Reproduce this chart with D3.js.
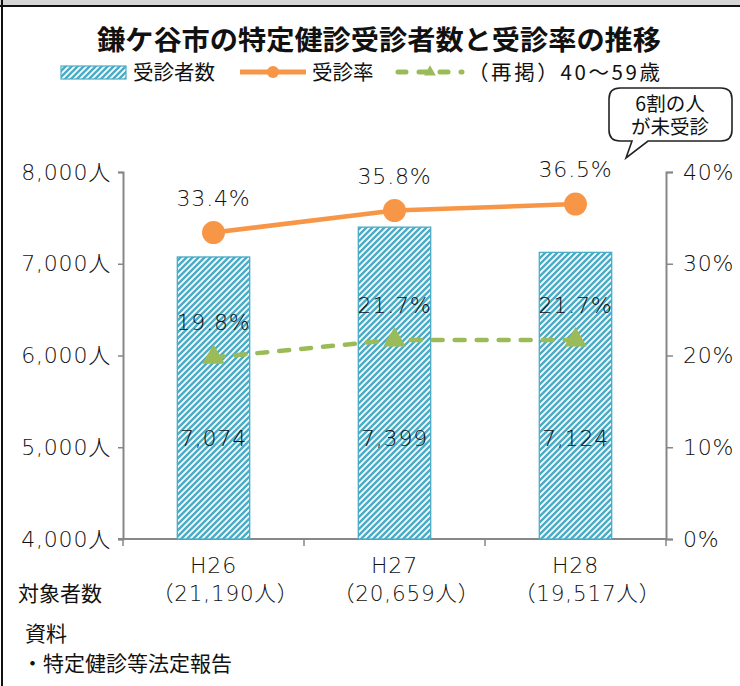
<!DOCTYPE html>
<html><head><meta charset="utf-8">
<script src="https://cdn.jsdelivr.net/npm/d3@7"></script>
<style>
html,body{margin:0;padding:0;background:#fff;}
svg{display:block;font-family:"Noto Sans CJK JP","Noto Sans",sans-serif;}
.num{font-family:"DejaVu Sans","Noto Sans CJK JP",sans-serif;font-weight:200;letter-spacing:0.8px;}
</style></head>
<body><svg id="c" width="740" height="686"></svg>
<script>
const categories = ["H26", "H27", "H28"];
const targetCounts = ["（21,190人）", "（20,659人）", "（19,517人）"];
const examinees = [7074, 7399, 7124];
const examRate = [33.4, 35.8, 36.5];
const rate4059 = [19.8, 21.7, 21.7];
const leftTicks = [4000, 5000, 6000, 7000, 8000];
const rightTicks = [0, 10, 20, 30, 40];
const title = "鎌ケ谷市の特定健診受診者数と受診率の推移";
const legendLabels = ["受診者数", "受診率", "（再掲）40〜59歳"];
const calloutLines = ["6割の人", "が未受診"];
const sourceLines = ["資料", "・特定健診等法定報告"];

const BLUE = "#4bacc6", ORANGE = "#f79646", GREEN = "#9bbb59", AX = "#878787";
const svg = d3.select("#c");

// frame
svg.append("rect").attr("x",0).attr("y",0).attr("width",740).attr("height",5).attr("fill","#d6d6d6");
svg.append("rect").attr("x",0).attr("y",5).attr("width",740).attr("height",2).attr("fill","#111");
svg.append("rect").attr("x",1).attr("y",0).attr("width",2).attr("height",686).attr("fill","#111");

// pattern
const defs = svg.append("defs");
const pat = defs.append("pattern").attr("id","hatch").attr("patternUnits","userSpaceOnUse")
  .attr("width",6).attr("height",6);
pat.append("rect").attr("width",6).attr("height",6).attr("fill","#fff");
pat.append("path").attr("d","M-1,7 L7,-1 M-4,4 L4,-4 M2,10 L10,2")
  .attr("stroke",BLUE).attr("stroke-width",2.5);

const m = {l:123, r:666, t:172, b:539};
const x = d3.scaleBand().domain(categories).range([m.l, m.r]).padding(0.6).paddingOuter(0.3);
const xc = d => x(d) + x.bandwidth()/2;
const yL = d3.scaleLinear().domain([4000, 8000]).range([m.b, m.t]);
const yR = d3.scaleLinear().domain([0, 40]).range([m.b, m.t]);

// title
svg.append("text").attr("x",379).attr("y",50).attr("text-anchor","middle")
  .attr("font-size",27).attr("font-weight","bold").attr("fill","#111")
  .attr("textLength",564).attr("lengthAdjust","spacingAndGlyphs").text(title);

// legend
const lg = svg.append("g").attr("font-size",20.5).attr("fill","#111");
lg.append("rect").attr("x",61).attr("y",66).attr("width",65).attr("height",13)
  .attr("fill","url(#hatch)").attr("stroke",BLUE).attr("stroke-width",1.2);
lg.append("text").attr("x",133).attr("y",80).text(legendLabels[0]);
lg.append("line").attr("x1",240).attr("x2",306).attr("y1",72).attr("y2",72)
  .attr("stroke",ORANGE).attr("stroke-width",5);
lg.append("circle").attr("cx",273).attr("cy",72).attr("r",6).attr("fill",ORANGE);
lg.append("text").attr("x",312).attr("y",80).text(legendLabels[1]);
lg.append("line").attr("x1",398).attr("x2",462).attr("y1",72).attr("y2",72)
  .attr("stroke",GREEN).attr("stroke-width",5).attr("stroke-linecap","round")
  .attr("stroke-dasharray","8,13");
lg.append("path").attr("d",d3.symbol(d3.symbolTriangle,60)()).attr("transform","translate(430,72)").attr("fill",GREEN);
lg.append("text").attr("x",468).attr("y",80).attr("textLength",192).attr("lengthAdjust","spacing").text(legendLabels[2]);

// callout
const co = svg.append("g");
co.append("path").attr("d","M620,88 H721 Q732,88 732,99 V130 Q732,141 721,141 H648 L626,158 L632,141 H620 Q609,141 609,130 V99 Q609,88 620,88 Z")
  .attr("fill","#fff").attr("stroke","#222").attr("stroke-width",1.6);
co.append("text").attr("text-anchor","middle").attr("font-size",19.5).attr("fill","#111")
  .selectAll("tspan").data(calloutLines).join("tspan")
  .attr("x",670).attr("y",(d,i)=>111+i*23).text(d=>d);

// axes
const axL = svg.append("g").attr("transform",`translate(${m.l},0)`)
  .call(d3.axisLeft(yL).tickValues(leftTicks).tickSize(5).tickPadding(7)
  .tickFormat(d=>d3.format(",")(d)+"人"));
const axR = svg.append("g").attr("transform",`translate(${m.r},0)`)
  .call(d3.axisRight(yR).tickValues(rightTicks).tickSize(7).tickPadding(10)
  .tickFormat(d=>d+"%"));
[axL,axR].forEach(a=>{
  a.select(".domain").attr("stroke",AX).attr("stroke-width",2);
  a.selectAll(".tick line").attr("stroke",AX).attr("stroke-width",1.5);
  a.selectAll(".tick text").attr("font-size",22).attr("fill","#111").attr("font-family",null).attr("class","num");
});
// baseline
svg.append("line").attr("x1",m.l-5).attr("x2",m.r).attr("y1",m.b).attr("y2",m.b)
  .attr("stroke",AX).attr("stroke-width",2);
const step = (m.r - m.l)/categories.length;
d3.range(categories.length+1).forEach(i=>{
  svg.append("line").attr("x1",m.l+i*step).attr("x2",m.l+i*step).attr("y1",m.b).attr("y2",m.b+7)
    .attr("stroke",AX).attr("stroke-width",1.5);
});

// bars
svg.selectAll(".bar").data(examinees).join("rect").attr("class","bar")
  .attr("x",(d,i)=>x(categories[i])).attr("width",x.bandwidth())
  .attr("y",d=>yL(d)).attr("height",d=>m.b-yL(d))
  .attr("fill","url(#hatch)").attr("stroke",BLUE).attr("stroke-width",1.3);

// x labels
svg.selectAll(".xl").data(categories).join("text").attr("class","xl num")
  .attr("x",d=>xc(d)).attr("y",573).attr("text-anchor","middle").attr("font-size",22).attr("fill","#111").text(d=>d);
svg.selectAll(".xt").data(targetCounts).join("text").attr("class","xt num")
  .attr("x",(d,i)=>xc(categories[i])+12).attr("y",601).attr("text-anchor","middle").attr("font-size",21.5).attr("fill","#111").text(d=>d);
svg.append("text").attr("x",18).attr("y",601).attr("font-size",21).attr("fill","#111").text("対象者数");

// bar value labels
svg.selectAll(".bv").data(examinees).join("text").attr("class","bv num")
  .attr("x",(d,i)=>xc(categories[i])).attr("y",yL(5100)+8).attr("text-anchor","middle")
  .attr("font-size",22).attr("fill","#111").text(d=>d3.format(",")(d));

// green dashed line
const lineG = d3.line().x((d,i)=>xc(categories[i])).y(d=>yR(d));
svg.append("path").datum(rate4059).attr("d",lineG).attr("fill","none")
  .attr("stroke",GREEN).attr("stroke-width",4.5).attr("stroke-linecap","round").attr("stroke-dasharray","10,12");
svg.selectAll(".tri").data(rate4059).join("path").attr("class","tri")
  .attr("d",d3.symbol(d3.symbolTriangle,220)())
  .attr("transform",(d,i)=>`translate(${xc(categories[i])},${yR(d)})`).attr("fill",GREEN);
svg.selectAll(".gl").data(rate4059).join("text").attr("class","gl num")
  .attr("x",(d,i)=>xc(categories[i])).attr("y",d=>yR(d)-27).attr("text-anchor","middle")
  .attr("font-size",22).attr("fill","#111").text(d=>d.toFixed(1)+"%");

// orange line
svg.append("path").datum(examRate).attr("d",lineG).attr("fill","none")
  .attr("stroke",ORANGE).attr("stroke-width",4.5);
svg.selectAll(".dot").data(examRate).join("circle").attr("class","dot")
  .attr("cx",(d,i)=>xc(categories[i])).attr("cy",d=>yR(d)).attr("r",11.5).attr("fill",ORANGE);
svg.selectAll(".ol").data(examRate).join("text").attr("class","ol num")
  .attr("x",(d,i)=>xc(categories[i])).attr("y",d=>yR(d)-27).attr("text-anchor","middle")
  .attr("font-size",22).attr("fill","#111").text(d=>d.toFixed(1)+"%");

// source
svg.selectAll(".src").data(sourceLines).join("text").attr("class","src")
  .attr("x",(d,i)=>i===0?25:22).attr("y",(d,i)=>641+i*30).attr("font-size",21).attr("fill","#111").text(d=>d);
</script></body></html>
